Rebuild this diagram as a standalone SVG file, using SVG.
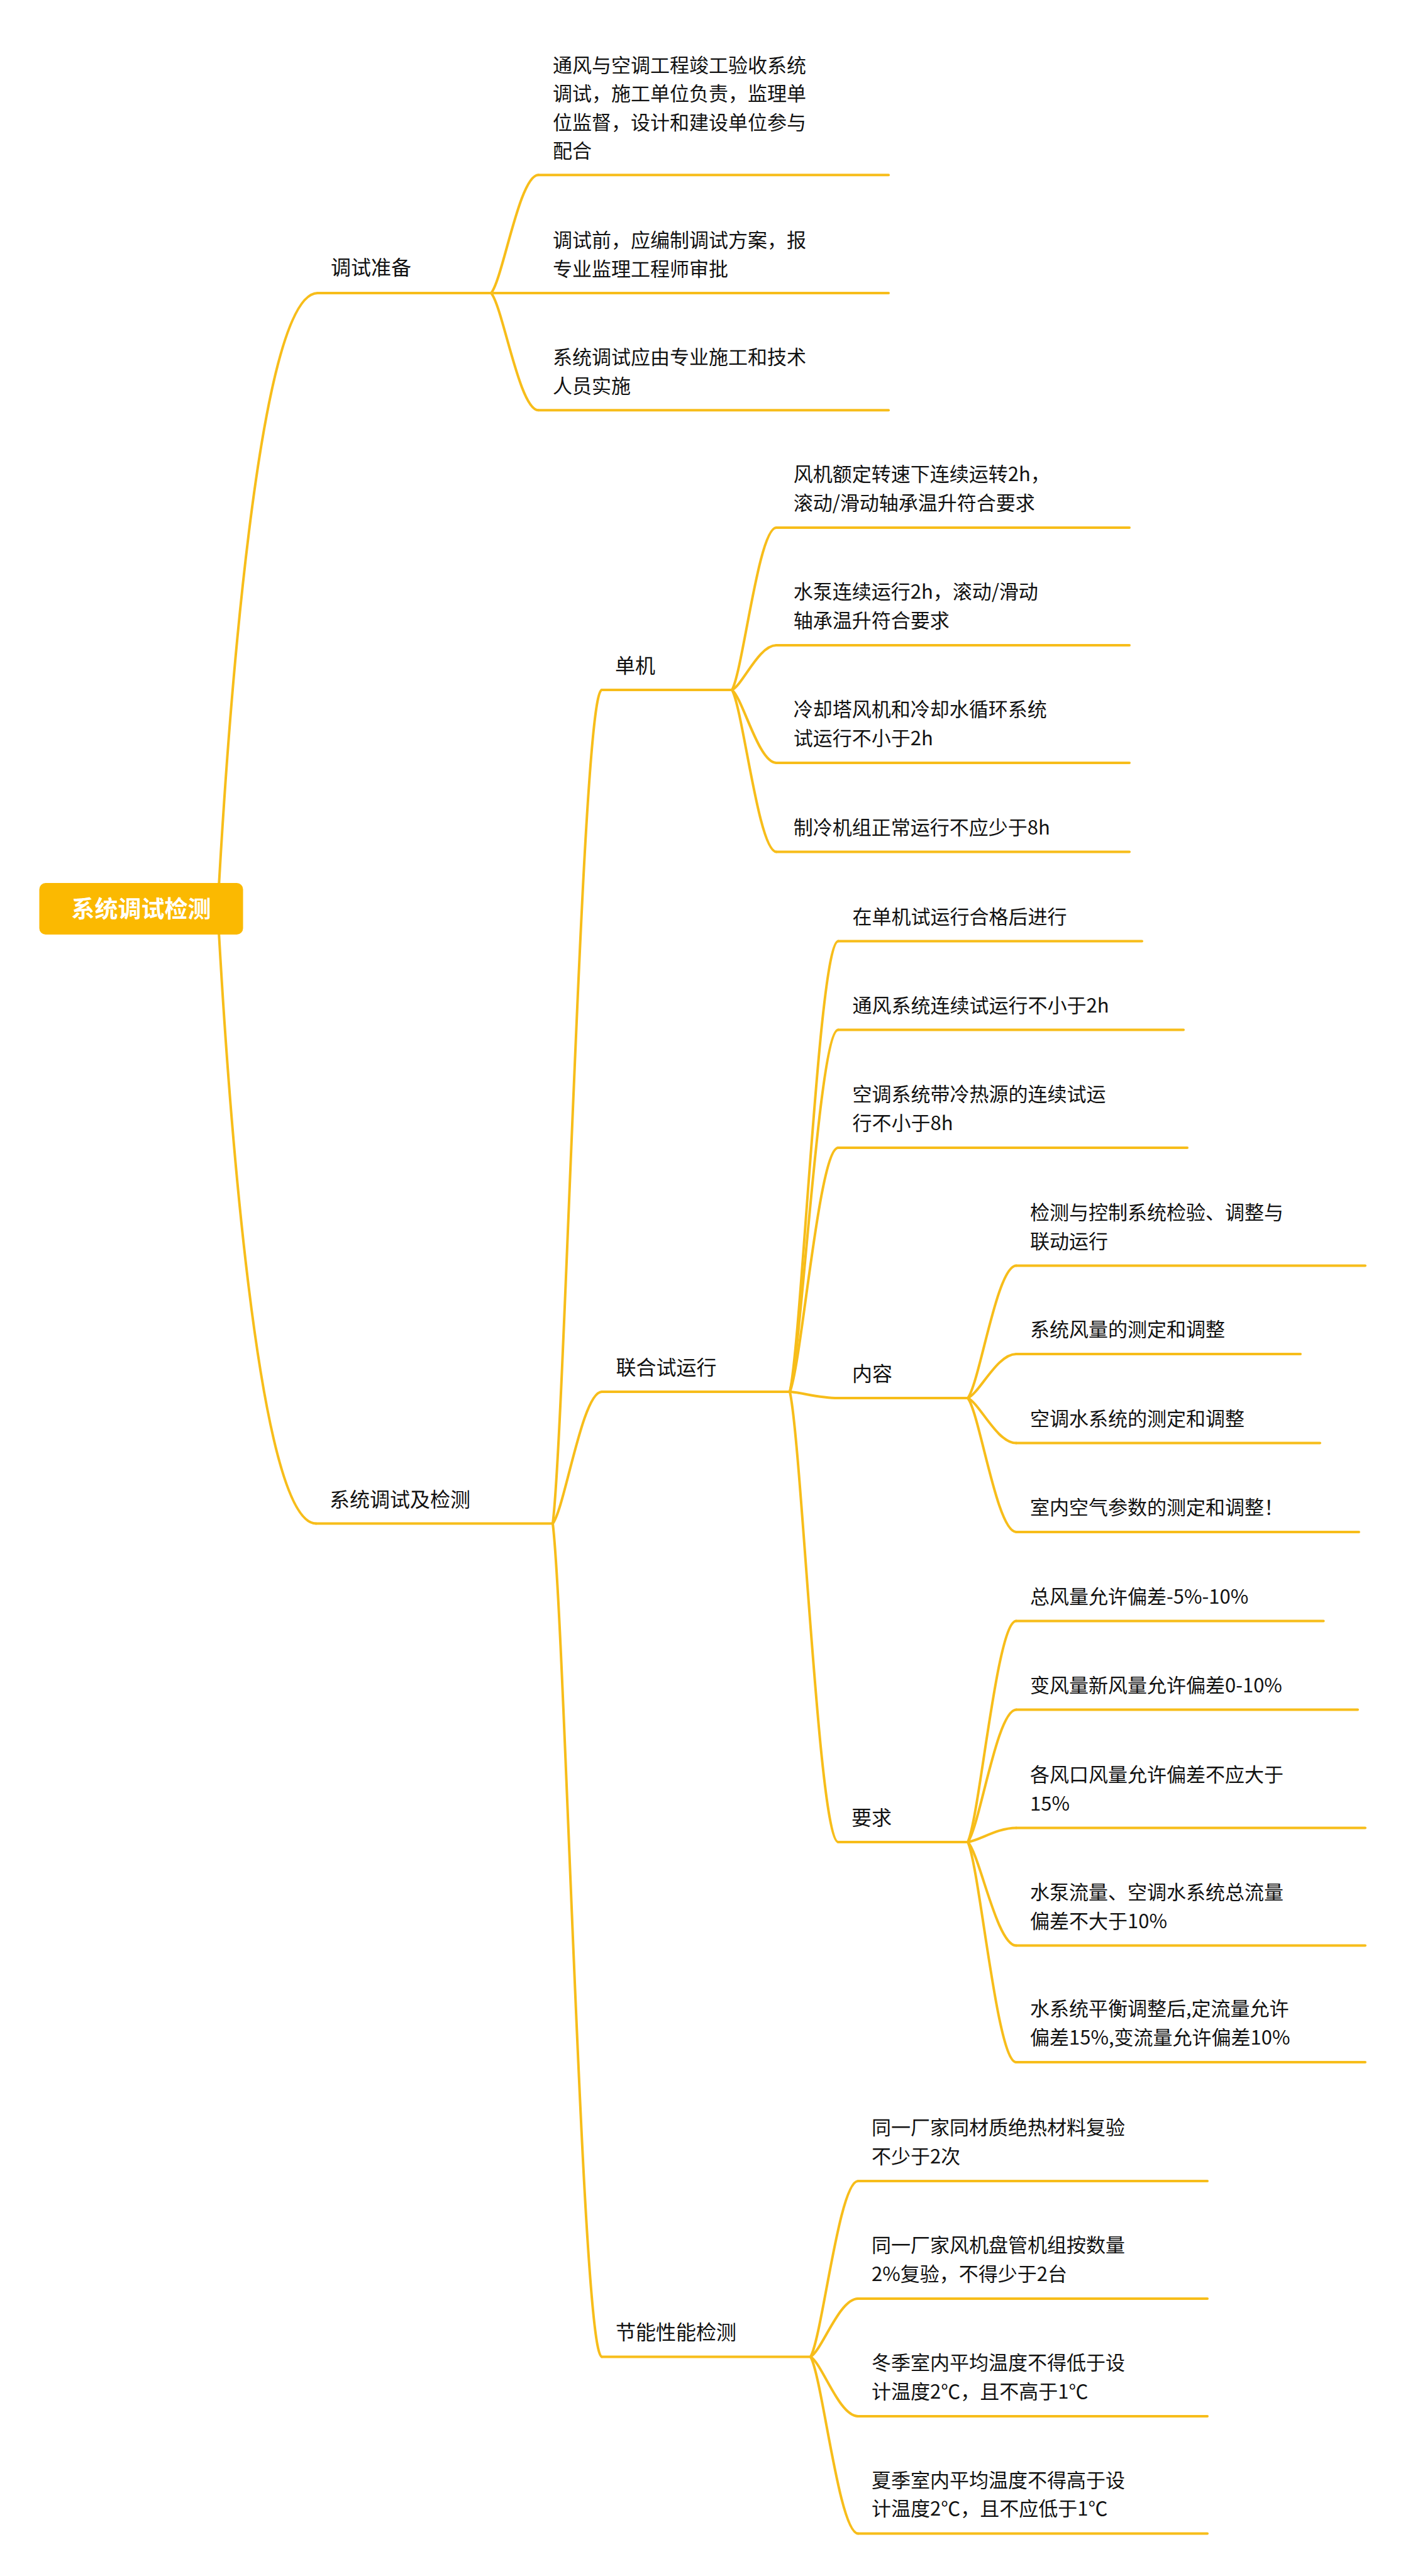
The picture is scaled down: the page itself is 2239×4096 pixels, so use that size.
<svg xmlns="http://www.w3.org/2000/svg" width="2239" height="4096" viewBox="0 0 2239 4096">
<style>
.ln{fill:none;stroke:#F7BD1A;stroke-width:4;stroke-linecap:round;stroke-linejoin:round}
.t{font-family:"Noto Sans CJK SC","Noto Sans",sans-serif;font-size:31px;fill:#111}
.lb{font-family:"Noto Sans CJK SC","Noto Sans",sans-serif;font-size:32px;fill:#111}
.rt{font-family:"Noto Sans CJK SC","Noto Sans",sans-serif;font-size:37px;font-weight:bold;fill:#fff}
</style>
<rect width="2239" height="4096" fill="#fff"/>
<g id="connectors">
<path class="ln" d="M346 1446 C362 1152 410 466 505 466"/>
<path class="ln" d="M346 1446 C362 1739 409 2422.5 502.5 2422.5"/>
<path class="ln" d="M781 466 C799.75 443.5 826 278.2 856 278.2"/>
<path class="ln" d="M781 466 L856 466"/>
<path class="ln" d="M781 466 C799.75 488.3 826 652.2 856 652.2"/>
<path class="ln" d="M879 2422.5 C898.5 2263.4 925.8 1097 957 1097"/>
<path class="ln" d="M879 2422.5 C898.5 2397.4 925.8 2213 957 2213"/>
<path class="ln" d="M879 2422.5 C898.5 2581.5 925.8 3747.4 957 3747.4"/>
<path class="ln" d="M1164 1097 C1181.6 1066 1206.3 839 1234.5 839"/>
<path class="ln" d="M1164 1097 C1181.6 1088.5 1206.3 1026 1234.5 1026"/>
<path class="ln" d="M1164 1097 C1181.6 1110.9 1206.3 1213 1234.5 1213"/>
<path class="ln" d="M1164 1097 C1181.6 1127.9 1206.3 1354.5 1234.5 1354.5"/>
<path class="ln" d="M1256 2213 C1275.25 2127 1302.2 1496.5 1333 1496.5"/>
<path class="ln" d="M1256 2213 C1275.25 2144 1302.2 1637.6 1333 1637.6"/>
<path class="ln" d="M1256 2213 C1275.25 2166.4 1302.2 1825 1333 1825"/>
<path class="ln" d="M1256 2213 C1275.25 2214.2 1302.2 2223 1333 2223"/>
<path class="ln" d="M1256 2213 C1275.25 2298.9 1302.2 2929 1333 2929"/>
<path class="ln" d="M1539 2223 C1558.25 2197.7 1585.2 2012.5 1616 2012.5"/>
<path class="ln" d="M1539 2223 C1558.25 2214.6 1585.2 2153 1616 2153"/>
<path class="ln" d="M1539 2223 C1558.25 2231.6 1585.2 2294.6 1616 2294.6"/>
<path class="ln" d="M1539 2223 C1558.25 2248.6 1585.2 2436 1616 2436"/>
<path class="ln" d="M1539 2929 C1558.25 2886.8 1585.2 2577.5 1616 2577.5"/>
<path class="ln" d="M1539 2929 C1558.25 2903.8 1585.2 2718.6 1616 2718.6"/>
<path class="ln" d="M1539 2929 C1558.25 2926.3 1585.2 2906.5 1616 2906.5"/>
<path class="ln" d="M1539 2929 C1558.25 2948.8 1585.2 3093.6 1616 3093.6"/>
<path class="ln" d="M1539 2929 C1558.25 2971 1585.2 3279 1616 3279"/>
<path class="ln" d="M1289 3747.4 C1307.9 3713.9 1334.3 3468 1364.5 3468"/>
<path class="ln" d="M1289 3747.4 C1307.9 3736.3 1334.3 3655 1364.5 3655"/>
<path class="ln" d="M1289 3747.4 C1307.9 3758.8 1334.3 3842 1364.5 3842"/>
<path class="ln" d="M1289 3747.4 C1307.9 3781.1 1334.3 4028.4 1364.5 4028.4"/>
</g>
<g id="root">
<rect x="62.5" y="1404" width="324" height="82" rx="10" fill="#FBB901"/>
<text class="rt" x="224.5" y="1459" text-anchor="middle">系统调试检测</text>
</g>
<g id="n-prep">
<path class="ln" d="M505 466 L781 466"/>
<text class="lb" x="526" y="436.5">调试准备</text>
</g>
<g id="n-prep-1">
<path class="ln" d="M856 278.2 L1413 278.2"/>
<text class="t" x="879" y="114.5">通风与空调工程竣工验收系统</text>
<text class="t" x="879" y="160.1">调试，施工单位负责，监理单</text>
<text class="t" x="879" y="205.7">位监督，设计和建设单位参与</text>
<text class="t" x="879" y="250.7">配合</text>
</g>
<g id="n-prep-2">
<path class="ln" d="M856 466 L1413 466"/>
<text class="t" x="879" y="392.9">调试前，应编制调试方案，报</text>
<text class="t" x="879" y="438.5">专业监理工程师审批</text>
</g>
<g id="n-prep-3">
<path class="ln" d="M856 652.2 L1413 652.2"/>
<text class="t" x="879" y="579.1">系统调试应由专业施工和技术</text>
<text class="t" x="879" y="624.7">人员实施</text>
</g>
<g id="n-sys">
<path class="ln" d="M502.5 2422.5 L879 2422.5"/>
<text class="lb" x="524" y="2395.5">系统调试及检测</text>
</g>
<g id="n-single">
<path class="ln" d="M957 1097 L1164 1097"/>
<text class="lb" x="978" y="1069.5">单机</text>
</g>
<g id="n-single-1">
<path class="ln" d="M1234.5 839 L1796 839"/>
<text class="t" x="1261.7" y="765.4">风机额定转速下连续运转2h，</text>
<text class="t" x="1261.7" y="811">滚动/滑动轴承温升符合要求</text>
</g>
<g id="n-single-2">
<path class="ln" d="M1234.5 1026 L1796 1026"/>
<text class="t" x="1261.7" y="952.4">水泵连续运行2h，滚动/滑动</text>
<text class="t" x="1261.7" y="998">轴承温升符合要求</text>
</g>
<g id="n-single-3">
<path class="ln" d="M1234.5 1213 L1796 1213"/>
<text class="t" x="1261.7" y="1139.4">冷却塔风机和冷却水循环系统</text>
<text class="t" x="1261.7" y="1185">试运行不小于2h</text>
</g>
<g id="n-single-4">
<path class="ln" d="M1234.5 1354.5 L1796 1354.5"/>
<text class="t" x="1261.7" y="1326.5">制冷机组正常运行不应少于8h</text>
</g>
<g id="n-joint">
<path class="ln" d="M957 2213 L1256 2213"/>
<text class="lb" x="979.5" y="2185.5">联合试运行</text>
</g>
<g id="n-joint-1">
<path class="ln" d="M1333 1496.5 L1816 1496.5"/>
<text class="t" x="1355.5" y="1468.5">在单机试运行合格后进行</text>
</g>
<g id="n-joint-2">
<path class="ln" d="M1333 1637.6 L1882 1637.6"/>
<text class="t" x="1355.5" y="1609.6">通风系统连续试运行不小于2h</text>
</g>
<g id="n-joint-3">
<path class="ln" d="M1333 1825 L1888 1825"/>
<text class="t" x="1355.5" y="1751.4">空调系统带冷热源的连续试运</text>
<text class="t" x="1355.5" y="1797">行不小于8h</text>
</g>
<g id="n-content">
<path class="ln" d="M1333 2223 L1539 2223"/>
<text class="lb" x="1355" y="2195.5">内容</text>
</g>
<g id="n-content-1">
<path class="ln" d="M1616 2012.5 L2171 2012.5"/>
<text class="t" x="1638" y="1938.9">检测与控制系统检验、调整与</text>
<text class="t" x="1638" y="1984.5">联动运行</text>
</g>
<g id="n-content-2">
<path class="ln" d="M1616 2153 L2068 2153"/>
<text class="t" x="1638" y="2125">系统风量的测定和调整</text>
</g>
<g id="n-content-3">
<path class="ln" d="M1616 2294.6 L2099 2294.6"/>
<text class="t" x="1638" y="2266.6">空调水系统的测定和调整</text>
</g>
<g id="n-content-4">
<path class="ln" d="M1616 2436 L2161 2436"/>
<text class="t" x="1638" y="2408">室内空气参数的测定和调整！</text>
</g>
<g id="n-req">
<path class="ln" d="M1333 2929 L1539 2929"/>
<text class="lb" x="1354" y="2901.5">要求</text>
</g>
<g id="n-req-1">
<path class="ln" d="M1616 2577.5 L2104.6 2577.5"/>
<text class="t" x="1638" y="2549.5">总风量允许偏差-5%-10%</text>
</g>
<g id="n-req-2">
<path class="ln" d="M1616 2718.6 L2159 2718.6"/>
<text class="t" x="1638" y="2690.6">变风量新风量允许偏差0-10%</text>
</g>
<g id="n-req-3">
<path class="ln" d="M1616 2906.5 L2171 2906.5"/>
<text class="t" x="1638" y="2832.9">各风口风量允许偏差不应大于</text>
<text class="t" x="1638" y="2878.5">15%</text>
</g>
<g id="n-req-4">
<path class="ln" d="M1616 3093.6 L2171 3093.6"/>
<text class="t" x="1638" y="3020">水泵流量、空调水系统总流量</text>
<text class="t" x="1638" y="3065.6">偏差不大于10%</text>
</g>
<g id="n-req-5">
<path class="ln" d="M1616 3279 L2171 3279"/>
<text class="t" x="1638" y="3205.4">水系统平衡调整后,定流量允许</text>
<text class="t" x="1638" y="3251">偏差15%,变流量允许偏差10%</text>
</g>
<g id="n-energy">
<path class="ln" d="M957 3747.4 L1289 3747.4"/>
<text class="lb" x="979" y="3719.9">节能性能检测</text>
</g>
<g id="n-energy-1">
<path class="ln" d="M1364.5 3468 L1920 3468"/>
<text class="t" x="1386" y="3394.4">同一厂家同材质绝热材料复验</text>
<text class="t" x="1386" y="3440">不少于2次</text>
</g>
<g id="n-energy-2">
<path class="ln" d="M1364.5 3655 L1920 3655"/>
<text class="t" x="1386" y="3581.4">同一厂家风机盘管机组按数量</text>
<text class="t" x="1386" y="3627">2%复验，不得少于2台</text>
</g>
<g id="n-energy-3">
<path class="ln" d="M1364.5 3842 L1920 3842"/>
<text class="t" x="1386" y="3768.4">冬季室内平均温度不得低于设</text>
<text class="t" x="1386" y="3814">计温度2℃，且不高于1℃</text>
</g>
<g id="n-energy-4">
<path class="ln" d="M1364.5 4028.4 L1920 4028.4"/>
<text class="t" x="1386" y="3954.8">夏季室内平均温度不得高于设</text>
<text class="t" x="1386" y="4000.4">计温度2℃，且不应低于1℃</text>
</g>
</svg>
